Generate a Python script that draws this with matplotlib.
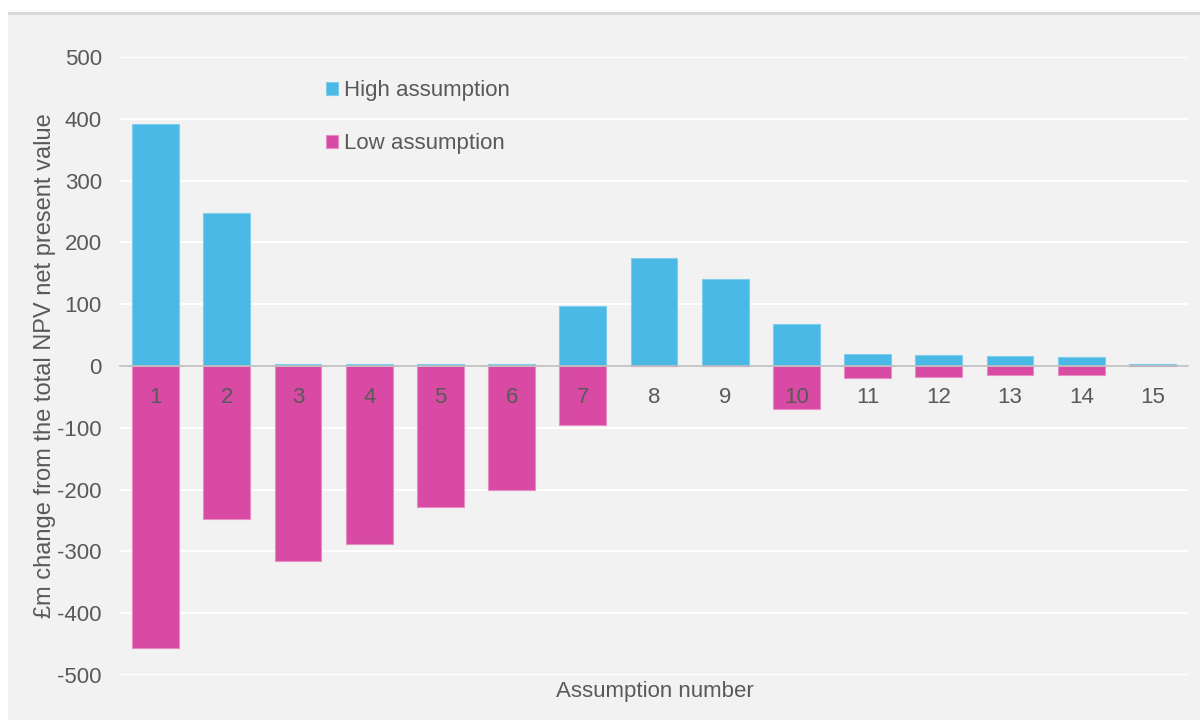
import matplotlib
matplotlib.use("Agg")
import matplotlib.pyplot as plt
from matplotlib.patches import Rectangle
import numpy as np

# Values (£m)
assumptions = [str(i) for i in range(1, 16)]
high_values = [392, 247, 3, 3, 3, 3, 97, 175, 141, 68, 20, 18, 16, 14, 3]
low_values = [-456, -248, -316, -288, -228, -201, -95, 0, 0, -69, -20, -18, -15, -14, 0]
y_ticks = [500, 400, 300, 200, 100, 0, -100, -200, -300, -400, -500]

blue = "#4ab9e5"
pink = "#d84aa3"
text_grey = "#595959"

plt.rcParams['font.family'] = ['Liberation Sans', 'DejaVu Sans']
plt.rcParams['axes.unicode_minus'] = False

fig = plt.figure(figsize=(12, 7.2), dpi=100)
fig.patch.set_facecolor("white")
# grey panel behind the chart, with a darker top edge
fig.patches.append(Rectangle((8 / 1200, 0), 1 - 8 / 1200, 1 - 14 / 720,
                             transform=fig.transFigure, facecolor="#f2f2f2",
                             edgecolor="none", zorder=-2))
fig.patches.append(Rectangle((8 / 1200, 1 - 15 / 720), 1 - 8 / 1200, 3 / 720,
                             transform=fig.transFigure, facecolor="#d9d9d9",
                             edgecolor="none", zorder=-1))

ax = fig.add_axes([0.1, 0.0625, 0.89, 0.8583])
ax.set_facecolor("none")

# white gridlines behind the bars
for yt in y_ticks:
    if yt != 0:
        ax.axhline(yt, color="white", linewidth=1.5, zorder=0.5)

x = np.arange(1, len(assumptions) + 1)
ax.bar(x, high_values, width=0.66, color=blue, edgecolor="#7fcdec",
       linewidth=0.8, label="High assumption", zorder=1)
ax.bar(x, low_values, width=0.66, color=pink, edgecolor="#e88cc5",
       linewidth=0.8, label="Low assumption", zorder=1)

ax.set_xlim(0.5, 15.5)
ax.set_ylim(-500, 500)
ax.set_yticks(y_ticks)

for side in ["top", "right", "left"]:
    ax.spines[side].set_visible(False)
ax.spines["bottom"].set_position(("data", 0))
ax.spines["bottom"].set_color("#bfbfbf")
ax.spines["bottom"].set_linewidth(1.2)
ax.spines["bottom"].set_zorder(3)

ax.set_xticks(x)
ax.set_xticklabels(assumptions)
ax.tick_params(axis="x", length=0, pad=15, labelsize=16, labelcolor=text_grey)
ax.tick_params(axis="y", length=0, pad=13, labelsize=16, labelcolor=text_grey)

ax.set_ylabel("£m change from the total NPV net present value",
              fontsize=17, color=text_grey, labelpad=1)
fig.text(0.546, 1 - 692 / 720, "Assumption number", ha="center", va="center",
         fontsize=16, color=text_grey)

leg = ax.legend(loc="upper left", bbox_to_anchor=(0.174, 0.995), frameon=False,
                fontsize=16, labelspacing=1.45, handlelength=0.55,
                handleheight=0.55, handletextpad=0.25)
for t in leg.get_texts():
    t.set_color(text_grey)

fig.savefig("out.png", dpi=100)
